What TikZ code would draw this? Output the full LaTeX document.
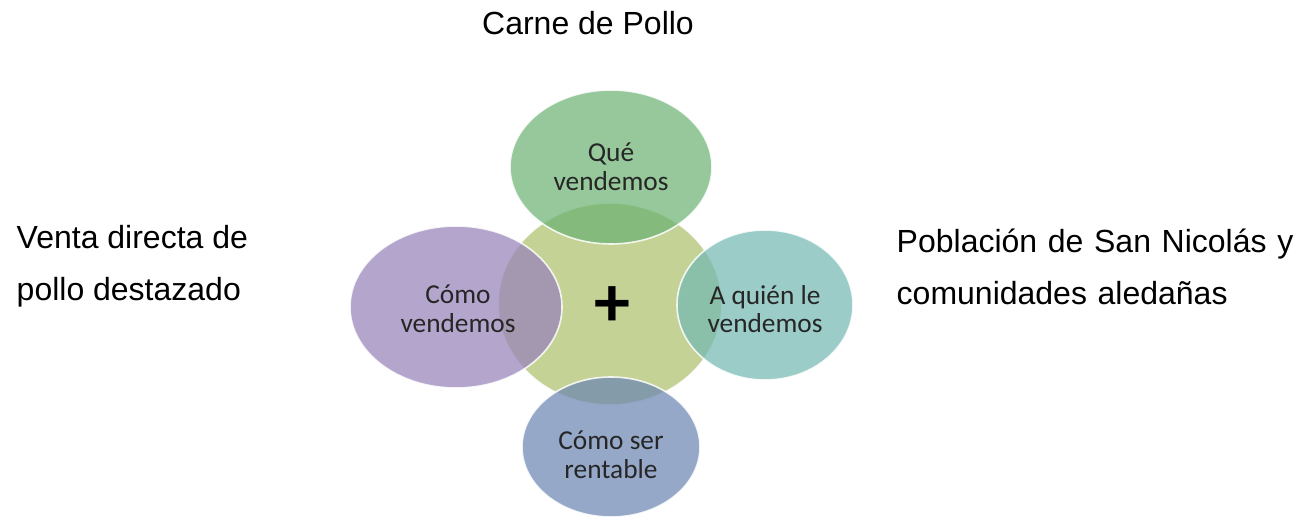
\documentclass[tikz,border=0pt]{standalone}
\usepackage{fontspec}
\setmainfont{Liberation Sans}
\newfontfamily\carlito{Carlito}
\definecolor{hub}{RGB}{173,192,109}
\definecolor{quegreen}{RGB}{109,179,116}
\definecolor{comopurple}{RGB}{151,130,185}
\definecolor{quienteal}{RGB}{116,185,179}
\definecolor{rentblue}{RGB}{109,134,179}
\begin{document}
\begin{tikzpicture}[x=0.75pt, y=-0.75pt,
    petal/.style={draw=white, line width=1.2pt, fill opacity=0.72, draw opacity=0.85},
    petaltext/.style={font=\carlito\fontsize{20.5}{21.5}\selectfont, align=center, text=black!85},
    sidetext/.style={font=\fontsize{24}{39}\selectfont, anchor=base west, align=left}]
    \useasboundingbox (0,0) rectangle (1316,523);
    \filldraw[petal, fill=hub] (610,304) ellipse [x radius=112, y radius=101];
    \filldraw[petal, fill=quegreen] (611,167) ellipse [x radius=101, y radius=77];
    \filldraw[petal, fill=comopurple] (456,307) ellipse [x radius=106, y radius=81];
    \filldraw[petal, fill=quienteal] (765,305) ellipse [x radius=88, y radius=75];
    \filldraw[petal, fill=rentblue] (611,447) ellipse [x radius=89, y radius=70];
    \node[petaltext] (que) at (611,167) {Qué\\vendemos};
    \node[petaltext] (como) at (458,309) {Cómo\\vendemos};
    \node[petaltext] (quien) at (765,309) {A quién le\\vendemos};
    \node[petaltext] (rentable) at (611,455) {Cómo ser\\rentable};
    \node[font=\carlito\bfseries\fontsize{54}{54}\selectfont] (mas) at (612,307) {+};
    \node[font=\fontsize{24}{29}\selectfont, anchor=base] (producto) at (588,35) {Carne de Pollo};
    \node[sidetext] (canal) at (12,301) {Venta directa de\\pollo destazado};
    \node[sidetext, text width=314pt] (mercado) at (892,253)
        {\makebox[\linewidth][s]{Población de San Nicolás y}\\comunidades aledañas};
\end{tikzpicture}
\end{document}
